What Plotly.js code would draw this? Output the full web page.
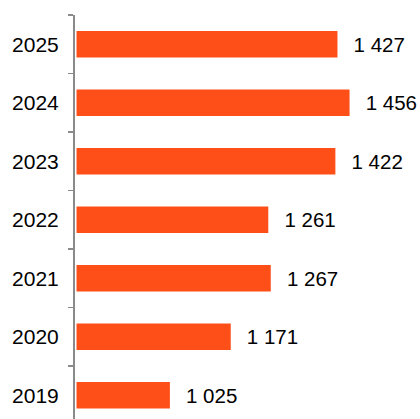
<!DOCTYPE html>
<html>
<head>
<meta charset="utf-8">
<script src="https://cdn.plot.ly/plotly-3.0.1.min.js"></script>
<style>html,body{margin:0;padding:0;background:#fff;}#chart{width:420px;height:419px;}</style>
</head>
<body>
<div id="chart"></div>
<script>
var years = ["2019", "2020", "2021", "2022", "2023", "2024", "2025"];
var values = [1025, 1171, 1267, 1261, 1422, 1456, 1427];

function fmt(v) {
  return String(v).replace(/\B(?=(\d{3})+(?!\d))/g, " ");
}
var labels = values.map(function (v) { return "\u00a0\u00a0\u200a" + fmt(v); });

var trace = {
  type: "bar",
  orientation: "h",
  x: values,
  y: years,
  width: 0.45,
  text: labels,
  textposition: "outside",
  textangle: 0,
  constraintext: "none",
  cliponaxis: false,
  outsidetextfont: {family: "Liberation Sans, Arial, sans-serif", size: 20.5, color: "#000"},
  marker: {color: "#FF4F18"},
  hoverinfo: "none"
};

var layout = {
  width: 420, height: 419,
  margin: {l: 74, r: 0, t: 15, b: 0, pad: 0},
  paper_bgcolor: "#fff", plot_bgcolor: "#fff",
  showlegend: false,
  font: {family: "Liberation Sans, Arial, sans-serif", size: 20, color: "#000"},
  xaxis: {
    domain: [0.0073, 1],
    range: [801, 1625],
    visible: false,
    fixedrange: true
  },
  yaxis: {
    type: "category",
    categoryorder: "array",
    categoryarray: years,
    range: [-0.406, 6.5],
    anchor: "free",
    position: 0,
    showline: true,
    linecolor: "#8a8a8a",
    linewidth: 2,
    ticks: "outside",
    tickson: "boundaries",
    ticklen: 5,
    tickwidth: 1.5,
    tickcolor: "#8a8a8a",
    ticklabelstandoff: 10,
    showgrid: false,
    zeroline: false,
    tickfont: {family: "Liberation Sans, Arial, sans-serif", size: 21, color: "#000"},
    fixedrange: true
  }
};

Plotly.newPlot("chart", [trace], layout, {displayModeBar: false, staticPlot: true});
</script>
</body>
</html>
